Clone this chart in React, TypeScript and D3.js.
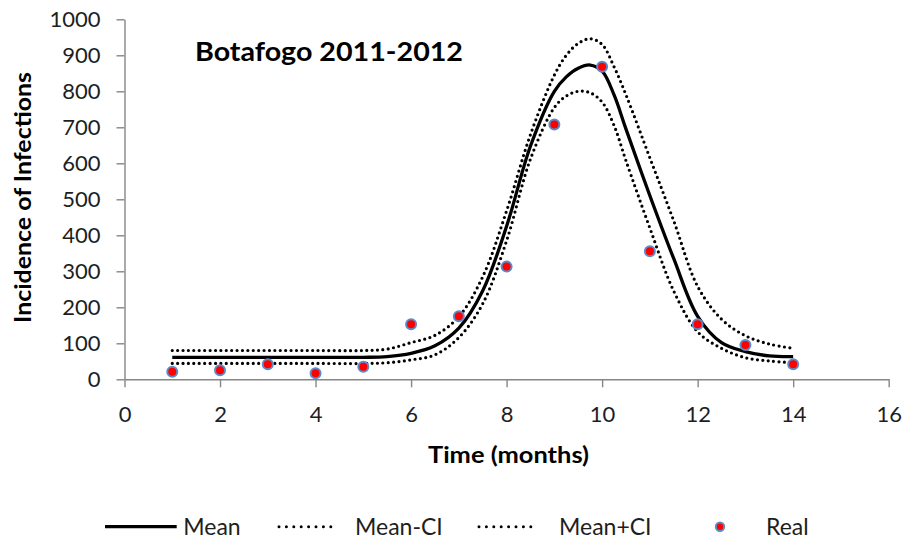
import React, { useEffect, useRef } from "react";
import * as d3 from "d3";

// ---- data ----
const months = [1, 2, 3, 4, 5, 5.5, 6, 6.5, 7, 7.5, 8, 8.5, 9, 9.25, 9.5, 9.75, 10, 10.25, 10.5, 11, 11.5, 12, 12.5, 13, 13.5, 14];
const meanVals = [61, 61, 61, 61, 61, 63, 72, 93, 142, 246, 425, 648, 800, 840, 864, 873, 856, 790, 695, 510, 335, 175, 102, 77, 65, 63];
const upperVals = [80, 80, 80, 80, 80, 84, 102, 122, 174, 285, 468, 680, 845, 900, 933, 946, 930, 868, 790, 615, 440, 258, 167, 121, 98, 86];
const lowerVals = [44, 44, 44, 44, 44, 46, 54, 68, 116, 210, 385, 612, 755, 787, 800, 796, 770, 705, 607, 420, 245, 132, 86, 60, 51, 46];

const realMonths = [1, 2, 3, 4, 5, 6, 7, 8, 9, 10, 11, 12, 13, 14];
const realVals = [21, 25, 42, 17, 35, 153, 175, 313, 708, 868, 356, 153, 95, 42];

const xTicks = [0, 2, 4, 6, 8, 10, 12, 14, 16];
const yTicks = [0, 100, 200, 300, 400, 500, 600, 700, 800, 900, 1000];

const titleText = "Botafogo 2011-2012";
const xTitle = "Time (months)";
const yTitle = "Incidence of Infections";
const legendLabels = ["Mean", "Mean-CI", "Mean+CI", "Real"];

const FONT = "Lato, 'Open Sans', sans-serif";
const AXIS_COLOR = "#868686";
const TEXT_COLOR = "#1e1e1e";

export default function App() {
  const W = 909;
  const H = 543;
  const x = d3.scaleLinear().domain([0, 16]).range([124.5, 888.7]);
  const y = d3.scaleLinear().domain([0, 1000]).range([379.3, 19.3]);

  const xAxisRef = useRef<SVGGElement>(null);
  const yAxisRef = useRef<SVGGElement>(null);

  const lineGen = d3
    .line<number>()
    .x((_d, i) => x(months[i]))
    .y((d) => y(d))
    .curve(d3.curveCatmullRom.alpha(0.5));

  useEffect(() => {
    const gx = d3.select(xAxisRef.current!);
    gx.call(
      d3.axisBottom(x).tickValues(xTicks).tickSize(8).tickSizeOuter(0).tickPadding(19).tickFormat(d3.format("d"))
    );
    gx.attr("font-family", FONT).attr("font-size", 22);
    gx.select(".domain").attr("stroke", AXIS_COLOR).attr("stroke-width", 1.4);
    gx.selectAll(".tick line").attr("stroke", AXIS_COLOR).attr("stroke-width", 1.4);
    gx.selectAll(".tick text").attr("fill", TEXT_COLOR);

    const gy = d3.select(yAxisRef.current!);
    gy.call(
      d3.axisLeft(y).tickValues(yTicks).tickSize(8).tickSizeOuter(0).tickPadding(16).tickFormat(d3.format("d"))
    );
    gy.attr("font-family", FONT).attr("font-size", 22);
    gy.select(".domain").attr("stroke", AXIS_COLOR).attr("stroke-width", 1.4);
    gy.selectAll(".tick line").attr("stroke", AXIS_COLOR).attr("stroke-width", 1.4);
    gy.selectAll(".tick text").attr("fill", TEXT_COLOR);
  }, []);

  const legendY = 526.7;
  const legendTextY = 535;

  return (
    <svg
      width={W}
      height={H}
      style={{ position: "absolute", left: 0, top: 0, display: "block", background: "#fff" }}
    >
      <rect x={0} y={0} width={W} height={H} fill="#fff" />
      <g ref={yAxisRef} transform={`translate(${x(0)},0)`} />
      <g ref={xAxisRef} transform={`translate(0,${y(0)})`} />

      {/* CI lines */}
      <path d={lineGen(lowerVals) || ""} fill="none" stroke="#000" strokeWidth={3.2} strokeDasharray="0 5.4" strokeLinecap="round" />
      <path d={lineGen(upperVals) || ""} fill="none" stroke="#000" strokeWidth={3.2} strokeDasharray="0 5.4" strokeLinecap="round" />
      {/* Mean */}
      <path d={lineGen(meanVals) || ""} fill="none" stroke="#000" strokeWidth={3.3} strokeLinejoin="round" />

      {/* Real points */}
      {realMonths.map((m, i) => (
        <circle key={m} cx={x(m)} cy={y(realVals[i])} r={5} fill="#ff0000" stroke="#5b8bc9" strokeWidth={2} />
      ))}

      {/* Title */}
      <text x={195} y={61} fontFamily={FONT} fontWeight="bold" fontSize={27} fill="#000" textLength={268} lengthAdjust="spacingAndGlyphs">
        {titleText}
      </text>

      {/* Axis titles */}
      <text
        x={508.5}
        y={462.7}
        textAnchor="middle"
        fontFamily={FONT}
        fontWeight="bold"
        fontSize={22}
        fill="#000"
        textLength={161}
        lengthAdjust="spacingAndGlyphs"
      >
        {xTitle}
      </text>
      <text
        transform={`translate(31,197.5) rotate(-90)`}
        textAnchor="middle"
        fontFamily={FONT}
        fontWeight="bold"
        fontSize={22}
        fill="#000"
        textLength={251}
        lengthAdjust="spacingAndGlyphs"
      >
        {yTitle}
      </text>

      {/* Legend */}
      <g fontFamily={FONT} fontSize={23} fill={TEXT_COLOR}>
        <line x1={105} x2={176.7} y1={legendY} y2={legendY} stroke="#000" strokeWidth={3.3} />
        <text x={183.3} y={legendTextY}>{legendLabels[0]}</text>

        <line x1={279} x2={338} y1={legendY} y2={legendY} stroke="#000" strokeWidth={3} strokeDasharray="0 7.4" strokeLinecap="round" />
        <text x={355} y={legendTextY}>{legendLabels[1]}</text>

        <line x1={479} x2={538} y1={legendY} y2={legendY} stroke="#000" strokeWidth={3} strokeDasharray="0 7.4" strokeLinecap="round" />
        <text x={559} y={legendTextY}>{legendLabels[2]}</text>

        <circle cx={720} cy={legendY} r={4.2} fill="#ff0000" stroke="#5b8bc9" strokeWidth={2} />
        <text x={766} y={legendTextY}>{legendLabels[3]}</text>
      </g>
    </svg>
  );
}
